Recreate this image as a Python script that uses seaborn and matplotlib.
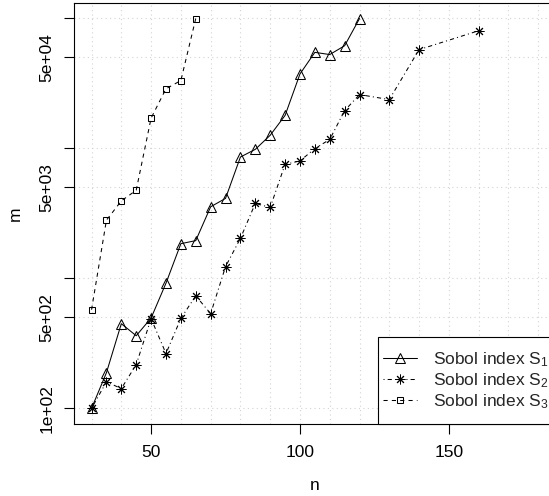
import matplotlib
matplotlib.use('Agg')
import matplotlib.pyplot as plt
from matplotlib.patches import Rectangle
from matplotlib.ticker import MultipleLocator, NullLocator
import seaborn as sns

# values
n_s1 = [30, 35, 40, 45, 50, 55, 60, 65, 70, 75, 80, 85, 90, 95, 100, 105, 110, 115, 120]
m_s1 = [100, 188, 448, 362, 495, 918, 1848, 1950, 3550, 4120, 8570, 9820,
        12600, 17900, 37300, 54700, 52600, 61500, 99500]

n_s2 = [30, 35, 40, 45, 50, 55, 60, 65, 70, 75, 80, 85, 90, 95, 100, 105, 110, 115, 120,
        130, 140, 160]
m_s2 = [100, 160, 142, 217, 490, 264, 492, 734, 535, 1230, 2030, 3770, 3510, 7530,
        8000, 9950, 11700, 19500, 25900, 23700, 57400, 80200]

n_s3 = [30, 35, 40, 45, 50, 55, 60, 65]
m_s3 = [574, 2800, 3940, 4760, 17060, 28700, 33200, 99500]

labels = [r'Sobol index S$_{\mathrm{1}}$', r'Sobol index S$_{\mathrm{2}}$',
          r'Sobol index S$_{\mathrm{3}}$']

y_ticks = [1e2, 5e2, 1e3, 5e3, 1e4, 5e4, 1e5]
y_ticklabels = ['1e+02', '5e+02', '', '5e+03', '', '5e+04', '']
x_ticks = [50, 100, 150]

sns.set_theme(style='ticks')
plt.rcParams['font.family'] = ['Liberation Sans', 'DejaVu Sans']
plt.rcParams['mathtext.fontset'] = 'custom'
plt.rcParams['mathtext.rm'] = 'Liberation Sans'
plt.rcParams['mathtext.it'] = 'Liberation Sans:italic'

fs = 12.5
W, H = 549, 496
fig = plt.figure(figsize=(W / 100, H / 100), dpi=100)
ax = fig.add_axes([0.1342, 0.1452, 0.8786, 0.8494])

sns.lineplot(x=n_s1, y=m_s1, ax=ax, color='black', lw=0.75, marker='^',
             markersize=7, mfc='none', mec='black', mew=0.75, label=labels[0])
sns.lineplot(x=n_s2, y=m_s2, ax=ax, color='black', lw=0.75, marker=(8, 2, 0),
             markersize=7, mec='black', mew=0.7, linestyle=(0, (1, 3, 4, 3)),
             label=labels[1])
sns.lineplot(x=n_s3, y=m_s3, ax=ax, color='black', lw=0.75, marker='s',
             markersize=5, mfc='none', mec='black', mew=0.75, linestyle=(0, (4, 4)),
             label=labels[2])

ax.set_yscale('log')
ax.set_xlim(24, 186)
ax.set_ylim(10 ** 1.88, 10 ** 5.12)

ax.set_xticks(x_ticks)
ax.set_xticklabels([str(v) for v in x_ticks])
ax.xaxis.set_minor_locator(MultipleLocator(10))
ax.set_yticks(y_ticks)
ax.set_yticklabels(y_ticklabels)
ax.yaxis.set_minor_locator(NullLocator())

ax.tick_params(axis='both', which='major', length=7, width=0.8, color='black',
               labelsize=fs, labelcolor='black')
ax.tick_params(axis='x', which='major', pad=8)
ax.tick_params(axis='y', which='major', pad=7, labelrotation=90)
ax.tick_params(axis='x', which='minor', length=0)
for lab in ax.get_yticklabels():
    lab.set_va('center')

ax.grid(True, which='both', axis='x', color='#d3d3d3', lw=0.8, ls=(0, (1, 3)))
ax.grid(True, which='major', axis='y', color='#d3d3d3', lw=0.8, ls=(0, (1, 3)))

for side in ['left', 'bottom', 'top', 'right']:
    ax.spines[side].set_visible(True)
    ax.spines[side].set_color('black')
    ax.spines[side].set_linewidth(0.8)

ax.set_xlabel('n', fontsize=fs, color='black', labelpad=13)
ax.set_ylabel('m', fontsize=fs, color='black', labelpad=12)

# legend, bottom right like R's legend("bottomright"), box drawn separately
leg = ax.legend(loc='center left', bbox_to_anchor=(378 / W, (H - 380.5) / H),
                bbox_transform=fig.transFigure, borderaxespad=0, fontsize=fs,
                handlelength=1.95, handletextpad=0.94, borderpad=0.27,
                labelspacing=0.15, frameon=False)
leg.set_zorder(6)
box = Rectangle((378 / W, (H - 424) / H), 200 / W, 87 / H,
                transform=fig.transFigure, fill=True, fc='white',
                ec='black', lw=0.8, zorder=5, clip_on=False)
ax.add_patch(box)

fig.savefig('out.png', dpi=100)
